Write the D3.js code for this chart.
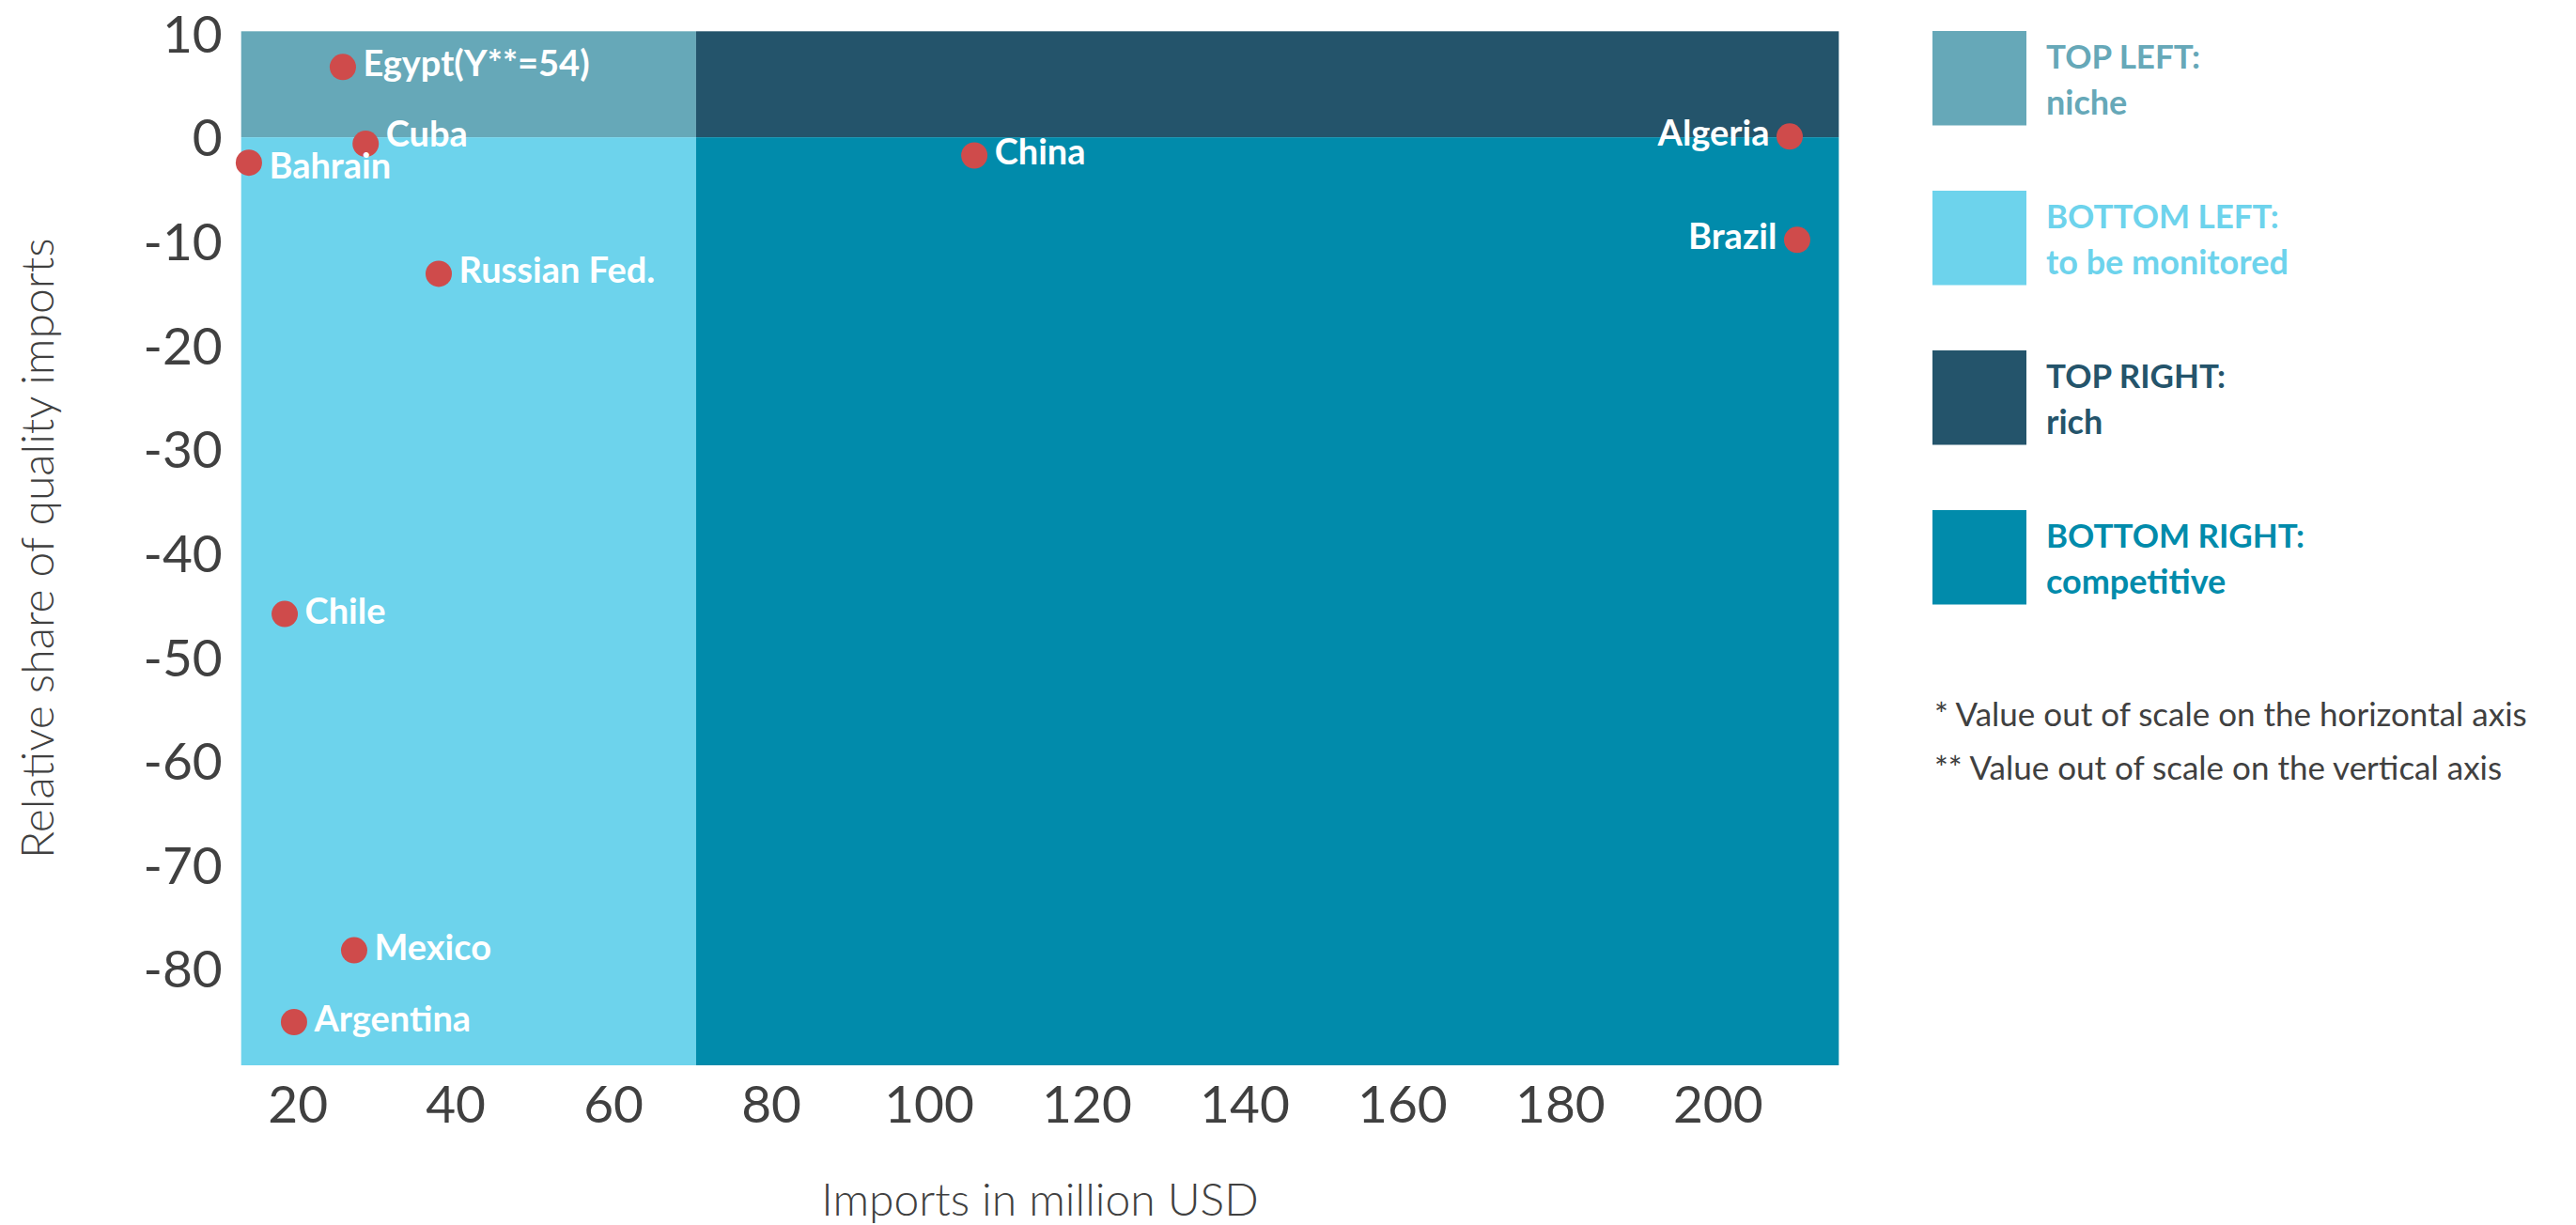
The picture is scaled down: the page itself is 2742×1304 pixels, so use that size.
<!DOCTYPE html>
<html>
<head>
<meta charset="utf-8">
<script src="https://cdn.jsdelivr.net/npm/d3@7"></script>
<style>
  html, body { margin: 0; padding: 0; background: #ffffff; }
  svg { display: block; }
  text { font-family: Lato, "Open Sans", sans-serif; }
</style>
</head>
<body>
<svg id="chart" width="2742" height="1304"></svg>
<script>
// ---------------- data ----------------
const countries = ["Egypt(Y**=54)", "Cuba", "Bahrain", "Russian Fed.", "Chile", "Mexico", "Argentina", "China", "Algeria", "Brazil"];
const importsMillionUSD = [25.75, 28.64, 13.84, 37.90, 18.38, 27.18, 19.56, 105.79, 209.13, 210.08];
const relativeShare = [6.76, -0.63, -2.44, -13.13, -45.87, -78.23, -85.14, -1.75, 0.07, -9.87];

const xTicks = [20, 40, 60, 80, 100, 120, 140, 160, 180, 200];
const yTicks = [10, 0, -10, -20, -30, -40, -50, -60, -70, -80];

const xDomain = [12.86, 215.36];
const yDomain = [-89.3, 10.2];
const xSplit = 70.52;   // quadrant boundary on the horizontal axis
const ySplit = 0;       // quadrant boundary on the vertical axis

const quadrantNames = ["TOP LEFT:", "BOTTOM LEFT:", "TOP RIGHT:", "BOTTOM RIGHT:"];
const quadrantDescriptions = ["niche", "to be monitored", "rich", "competitive"];
const footnotes = ["* Value out of scale on the horizontal axis", "** Value out of scale on the vertical axis"];

const xTitle = "Imports in million USD";
const yTitle = "Relative share of quality imports";

// ---------------- styling ----------------
const quadrantColors = ["#66a8b8", "#6dd3ec", "#24546b", "#018bab"];
const dotColor = "#cf4b4b";
const textColor = "#404040";
// label placement tweaks (by country): side and vertical nudge in px
const labelLeft = new Set(["Algeria", "Brazil"]);
const labelNudge = { "Cuba": -7, "Bahrain": 7 };

const plot = { left: 256.7, right: 1957.3, top: 33.3, bottom: 1134 };

const svg = d3.select("#chart");

const x = d3.scaleLinear().domain(xDomain).range([plot.left, plot.right]);
const y = d3.scaleLinear().domain(yDomain).range([plot.bottom, plot.top]);

// ---------------- quadrants ----------------
const quads = [
  { x0: xDomain[0], x1: xSplit, y0: ySplit, y1: yDomain[1], c: quadrantColors[0] },
  { x0: xDomain[0], x1: xSplit, y0: yDomain[0], y1: ySplit, c: quadrantColors[1] },
  { x0: xSplit, x1: xDomain[1], y0: ySplit, y1: yDomain[1], c: quadrantColors[2] },
  { x0: xSplit, x1: xDomain[1], y0: yDomain[0], y1: ySplit, c: quadrantColors[3] }
];
svg.append("g").selectAll("rect").data(quads).join("rect")
  .attr("x", d => x(d.x0))
  .attr("y", d => y(d.y1))
  .attr("width", d => x(d.x1) - x(d.x0))
  .attr("height", d => y(d.y0) - y(d.y1))
  .attr("fill", d => d.c);

// ---------------- axes ----------------
const xAxis = svg.append("g")
  .attr("transform", `translate(0,${plot.bottom})`)
  .call(d3.axisBottom(x).tickValues(xTicks).tickSize(0).tickPadding(0).tickFormat(d => String(d)));
xAxis.select(".domain").remove();
xAxis.selectAll("text")
  .attr("y", 61).attr("dy", 0)
  .attr("fill", textColor)
  .style("font-size", "55px")
  .style("font-family", "Lato, sans-serif")
  .style("font-weight", 400);

const yAxis = svg.append("g")
  .attr("transform", `translate(${plot.left},0)`)
  .call(d3.axisLeft(y).tickValues(yTicks).tickSize(0).tickPadding(20).tickFormat(d => String(d)));
yAxis.select(".domain").remove();
yAxis.selectAll("text")
  .attr("dy", "0.36em")
  .attr("fill", textColor)
  .style("font-size", "55px")
  .style("font-family", "Lato, sans-serif")
  .style("font-weight", 400);

// axis titles
svg.append("text")
  .attr("x", (plot.left + plot.right) / 2)
  .attr("y", 1294)
  .attr("text-anchor", "middle")
  .attr("fill", textColor)
  .style("font-size", "48px")
  .style("font-weight", 300)
  .text(xTitle);

svg.append("text")
  .attr("transform", `translate(57,${(plot.top + plot.bottom) / 2}) rotate(-90)`)
  .attr("text-anchor", "middle")
  .attr("fill", textColor)
  .style("font-size", "48px")
  .style("font-weight", 300)
  .text(yTitle);

// ---------------- points ----------------
const pts = countries.map((name, i) => ({ name, vx: importsMillionUSD[i], vy: relativeShare[i] }));

svg.append("g").selectAll("circle").data(pts).join("circle")
  .attr("cx", d => x(d.vx))
  .attr("cy", d => y(d.vy))
  .attr("r", 14)
  .attr("fill", dotColor);

svg.append("g").selectAll("text").data(pts).join("text")
  .attr("x", d => x(d.vx) + (labelLeft.has(d.name) ? -21.5 : 21.5))
  .attr("y", d => y(d.vy) + 10 + (labelNudge[d.name] || 0))
  .attr("text-anchor", d => labelLeft.has(d.name) ? "end" : "start")
  .attr("fill", "#ffffff")
  .style("font-size", "38px")
  .style("font-weight", 700)
  .text(d => d.name);

// ---------------- legend ----------------
const legend = svg.append("g").attr("transform", "translate(2057,33)");
const items = quadrantNames.map((n, i) => ({ n, d: quadrantDescriptions[i], c: quadrantColors[i] }));
const li = legend.selectAll("g").data(items).join("g")
  .attr("transform", (d, i) => `translate(0,${i * 170})`);
li.append("rect").attr("width", 100).attr("height", 100.5).attr("fill", d => d.c);
li.append("text").attr("x", 121).attr("y", 40).attr("fill", d => d.c)
  .style("font-size", "35px").style("font-weight", 700).text(d => d.n);
li.append("text").attr("x", 121).attr("y", 89).attr("fill", d => d.c)
  .style("font-size", "36px").style("font-weight", 700).text(d => d.d);

svg.append("g").selectAll("text").data(footnotes).join("text")
  .attr("x", 2059)
  .attr("y", (d, i) => 773 + i * 57)
  .attr("fill", textColor)
  .style("font-size", "35px")
  .style("font-weight", 400)
  .text(d => d);
</script>
</body>
</html>
